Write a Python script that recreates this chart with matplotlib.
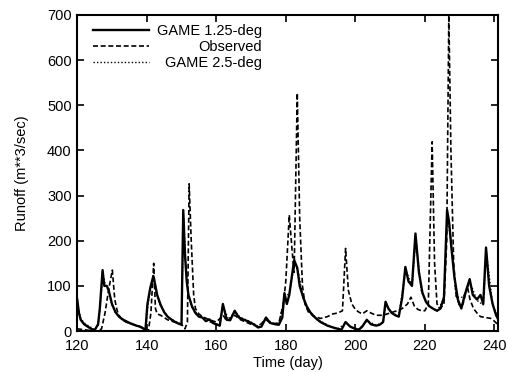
import numpy as np
import matplotlib
matplotlib.use('Agg')
import matplotlib.pyplot as plt

plt.rcParams['font.family'] = ['Liberation Sans', 'DejaVu Sans']

# GAME 1.25-deg (linea solida)
dia_g125 = [120, 120.5, 121, 122, 123, 124, 125, 126, 126.5, 127.3, 127.8, 128.5, 129, 130, 131, 132, 133,
            134, 135, 136, 137, 138, 139, 139.6, 140.2, 141, 141.9, 142.5, 143, 144, 145, 146, 147, 148,
            149, 150, 150.5, 151, 151.5, 152, 153, 154, 155, 156, 157, 158, 159, 160, 161, 161.9, 163,
            164, 165.3, 166.5, 168, 169, 170, 171, 172, 173, 174.3, 175.5, 177, 178, 179, 179.6, 180.3,
            181, 182.4, 183.3, 184, 185, 186, 187, 188, 189, 190, 192, 194, 196, 197.2, 198.5, 200, 201,
            202, 203.3, 204.5, 206, 207, 208, 208.7, 209.5, 210.5, 211.5, 212.5, 213.5, 214.4, 215.3,
            216.3, 217.3, 218.3, 219.3, 220.3, 221.3, 222.3, 223.5, 224.5, 225.5, 226.4, 227, 227.7,
            228.5, 229.5, 230.5, 231.5, 232.9, 233.8, 235, 236, 236.8, 237.6, 238.5, 239.5, 240.5, 241.5]
q_g125 = [70, 40, 25, 15, 10, 5, 2, 15, 50, 135, 100, 100, 92, 60, 42, 32, 26,
          22, 18, 15, 12, 10, 6, 0, 60, 95, 122, 100, 80, 58, 42, 32, 26, 21,
          17, 14, 268, 170, 110, 80, 55, 40, 32, 30, 22, 26, 18, 15, 12, 60, 25,
          24, 45, 30, 25, 22, 18, 14, 8, 10, 30, 18, 15, 14, 30, 84, 60,
          80, 157, 140, 100, 75, 55, 42, 33, 26, 20, 12, 7, 3, 20, 10, 5, 3,
          10, 25, 15, 12, 14, 20, 65, 50, 40, 35, 32, 75, 142, 110,
          100, 216, 130, 85, 65, 55, 50, 45, 50, 75, 268, 240, 180,
          120, 70, 50, 80, 115, 80, 70, 80, 60, 185, 100, 60, 35, 20]

# Observado (linea a trazos)
dia_obs = [120, 122, 124, 126, 127, 128, 129, 130.1, 130.8, 131.5, 132, 133, 134, 136, 138, 139.5, 140.5,
           141.2, 142, 142.5, 143, 144, 145, 146, 148, 150, 151, 151.7, 152.2, 152.8, 153.5, 154, 155,
           156, 158, 160, 162, 163, 165.3, 167, 170, 172, 174.3, 176, 178, 179.3, 180, 181, 181.8, 182.4,
           183.3, 184, 184.8, 185.5, 186.5, 188, 190, 192, 193.5, 195, 196.3, 197.2, 198, 199, 200, 201,
           202, 203.3, 204.5, 206, 208, 210, 212, 213.5, 215, 216, 217, 218, 219, 220, 221, 222.1, 222.8,
           223.5, 224.5, 225.5, 226.3, 226.9, 227.5, 228.3, 229, 230, 231, 232.2, 233, 234, 235, 236,
           237.5, 239, 240, 241.5]
q_obs = [5, 3, 1, 0, 5, 40, 90, 135, 70, 45, 35, 25, 20, 15, 10, 3, 2,
         40, 150, 50, 38, 35, 30, 25, 20, 15, 5, 20, 326, 200, 80, 50, 38,
         32, 25, 20, 35, 22, 35, 25, 15, 10, 25, 16, 18, 60, 110, 257, 180, 130,
         527, 250, 100, 60, 42, 33, 28, 32, 38, 40, 45, 183, 90, 60, 48, 42,
         38, 45, 40, 35, 35, 40, 45, 50, 60, 75, 55, 48, 45, 45, 60, 419, 150,
         60, 50, 60, 200, 700, 400, 150, 80, 55, 60, 100, 70, 50, 40, 32,
         30, 28, 22, 10]

# GAME 2.5-deg (linea punteada)
dia_g25 = [120, 121, 122, 124, 125, 126, 126.6, 127.4, 128, 129, 130, 131, 133, 135, 137, 139, 139.7,
           140.3, 141, 142, 143, 144, 146, 148, 150, 150.6, 151.2, 152, 153, 155, 157, 159, 161, 162,
           163.5, 165.4, 167, 170, 172, 174.4, 176, 178, 179.7, 181, 182.5, 183.5, 185, 187, 189, 192,
           195, 197.3, 199, 201, 203.4, 206, 208, 208.8, 210.5, 212.5, 214.5, 216.3, 217.4, 219, 221,
           223.5, 225.5, 226.5, 227.5, 229, 231, 233, 235, 236.8, 237.7, 239.5, 241.5]
q_g25 = [60, 28, 18, 8, 3, 12, 55, 125, 105, 88, 58, 40, 27, 19, 13, 7, 2,
         55, 90, 115, 76, 55, 32, 22, 15, 250, 150, 78, 52, 34, 24, 18, 13, 55,
         26, 42, 30, 20, 10, 28, 18, 15, 78, 82, 150, 135, 72, 42, 27, 13,
         5, 18, 8, 4, 23, 13, 19, 60, 40, 34, 135, 100, 205, 88, 56,
         44, 72, 255, 200, 75, 75, 108, 68, 58, 175, 58, 22]

etiquetas = ['GAME 1.25-deg', 'Observed', 'GAME 2.5-deg']

fig = plt.figure(figsize=(5.08, 3.72), dpi=100)
ax = fig.add_axes([0.152, 0.110, 0.828, 0.850])

l1, = ax.plot(dia_g125, q_g125, color='k', lw=1.7, ls='-')
l2, = ax.plot(dia_obs, q_obs, color='k', lw=1.2, ls=(0, (3, 1.6)))
l3, = ax.plot(dia_g25, q_g25, color='k', lw=1.0, ls=(0, (1, 1.5)))

ax.set_xlim(120, 241)
ax.set_ylim(0, 700)
ax.set_xticks(np.arange(120, 241, 20))
ax.set_yticks(np.arange(0, 701, 100))
ax.tick_params(direction='in', top=True, right=True, length=5, width=1.2, labelsize=10.5)
ax.tick_params(axis='x', pad=6)
ax.tick_params(axis='y', pad=4)
for s in ax.spines.values():
    s.set_linewidth(1.5)

ax.set_xlabel('Time (day)', fontsize=10.5, labelpad=2)
ax.set_ylabel('Runoff (m**3/sec)', fontsize=10.5, labelpad=13)

# leyenda en dos partes: muestras a la izquierda, textos alineados a la derecha
leg1 = ax.legend([l1, l2, l3], ['', '', ''], loc='upper left', frameon=False, fontsize=10.5,
                 handlelength=3.8, handletextpad=0, labelspacing=0.15, borderaxespad=0,
                 borderpad=0, bbox_to_anchor=(0.038, 0.972))
ax.add_artist(leg1)
vacios = [plt.Line2D([], [], lw=0) for _ in etiquetas]
leg2 = ax.legend(vacios, etiquetas, loc='upper right', frameon=False, fontsize=10.5,
                 handlelength=0, handletextpad=0, labelspacing=0.15, borderaxespad=0,
                 borderpad=0, markerfirst=False, bbox_to_anchor=(0.44, 0.972))

fig.savefig('out.png', dpi=100)
